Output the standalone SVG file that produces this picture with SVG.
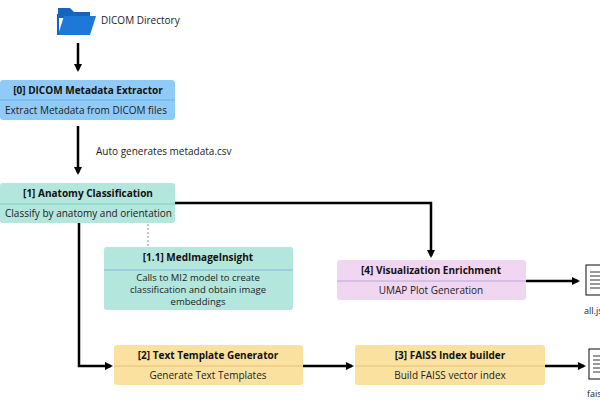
<svg xmlns="http://www.w3.org/2000/svg" width="600" height="400" viewBox="0 0 600 400">
<defs>
<marker id="ah" markerWidth="8" markerHeight="8" refX="6" refY="4" orient="auto" markerUnits="userSpaceOnUse"><path d="M0,0 L8,4 L0,8 z" fill="#000"/></marker>
<style>
text{font-family:"Segoe UI","Open Sans","Noto Sans",sans-serif;font-size:10px;fill:#222}
.t{font-weight:bold;fill:#111}
.s{font-size:9.5px}
.c{stroke:#000;stroke-width:2.5;fill:none}
.d{stroke:#333;stroke-width:1;fill:none}
</style>
</defs>
<rect width="600" height="400" fill="#fff"/>
<g id="dicomdir">
<path d="M58,8 h12 l4,4 h16 v6 h-32 z" fill="#1565c0"/>
<path d="M58,35 L64,16 H96 L90,35 Z" fill="#1e78d7"/>
<path d="M58,14 v21" stroke="#1565c0" stroke-width="2"/>
<text x="101" y="24">DICOM Directory</text>
</g>
<g id="connectors">
<line class="c" x1="78" y1="43" x2="78" y2="70" marker-end="url(#ah)"/>
<line class="c" x1="78" y1="126" x2="78" y2="173" marker-end="url(#ah)"/>
<text x="96" y="155">Auto generates metadata.csv</text>
<polyline class="c" points="175,203 431,203 431,256" marker-end="url(#ah)"/>
<line x1="148" y1="224" x2="148" y2="247" stroke="#888" stroke-dasharray="2,2"/>
<polyline class="c" points="79,223 79,366 111,366" marker-end="url(#ah)"/>
<line class="c" x1="303" y1="366" x2="352" y2="366" marker-end="url(#ah)"/>
<line class="c" x1="526" y1="281" x2="578" y2="281" marker-end="url(#ah)"/>
<line class="c" x1="545" y1="366" x2="584" y2="366" marker-end="url(#ah)"/>
</g>
<g id="n0">
<rect x="0" y="80" width="175" height="40" rx="3" fill="#90cbf8"/>
<line x1="0" y1="100" x2="175" y2="100" stroke="#6aaee6"/>
<text class="t" x="88" y="94" text-anchor="middle">[0] DICOM Metadata Extractor</text>
<text x="5" y="114">Extract Metadata from DICOM files</text>
</g>
<g id="n1">
<rect x="0" y="183" width="175" height="40" rx="3" fill="#b3e6dc"/>
<line x1="0" y1="204" x2="175" y2="204" stroke="#7fcfc0"/>
<text class="t" x="88" y="197" text-anchor="middle">[1] Anatomy Classification</text>
<text x="5" y="217">Classify by anatomy and orientation</text>
</g>
<g id="n11">
<rect x="104" y="247" width="189" height="63" rx="3" fill="#b3e6dc"/>
<line x1="104" y1="270" x2="293" y2="270" stroke="#7fb8d8"/>
<text class="t" x="198" y="261" text-anchor="middle">[1.1] MedImageInsight</text>
<text class="s" x="198" y="281" text-anchor="middle">Calls to MI2 model to create</text>
<text class="s" x="198" y="293" text-anchor="middle">classification and obtain image</text>
<text class="s" x="198" y="305" text-anchor="middle">embeddings</text>
</g>
<g id="n4">
<rect x="337" y="260" width="189" height="40" rx="3" fill="#f1d6f1"/>
<line x1="337" y1="281" x2="526" y2="281" stroke="#b8a8d8"/>
<text class="t" x="431" y="274" text-anchor="middle">[4] Visualization Enrichment</text>
<text x="431" y="294" text-anchor="middle">UMAP Plot Generation</text>
</g>
<g id="n2">
<rect x="114" y="345" width="189" height="40" rx="3" fill="#fbe19f"/>
<line x1="114" y1="366" x2="303" y2="366" stroke="#e3c27a"/>
<text class="t" x="208" y="359" text-anchor="middle">[2] Text Template Generator</text>
<text x="208" y="379" text-anchor="middle">Generate Text Templates</text>
</g>
<g id="n3">
<rect x="355" y="345" width="190" height="40" rx="3" fill="#fbe19f"/>
<line x1="355" y1="366" x2="545" y2="366" stroke="#e3c27a"/>
<text class="t" x="450" y="359" text-anchor="middle">[3] FAISS Index builder</text>
<text x="450" y="379" text-anchor="middle">Build FAISS vector index</text>
</g>
<g id="doc-all">
<rect x="586" y="265" width="20" height="30" fill="#fff" stroke="#333" stroke-width="1.2"/>
<path class="d" d="M590,272 h12 M590,276 h12 M590,280 h12 M590,284 h12 M590,288 h12"/>
<text x="584" y="314" style="font-size:9px">all.json</text>
</g>
<g id="doc-faiss">
<rect x="589" y="349" width="20" height="30" fill="#fff" stroke="#333" stroke-width="1.2"/>
<path class="d" d="M593,356 h12 M593,360 h12 M593,364 h12 M593,368 h12 M593,372 h12"/>
<text x="587" y="397" style="font-size:9px">faiss</text>
</g>
</svg>
